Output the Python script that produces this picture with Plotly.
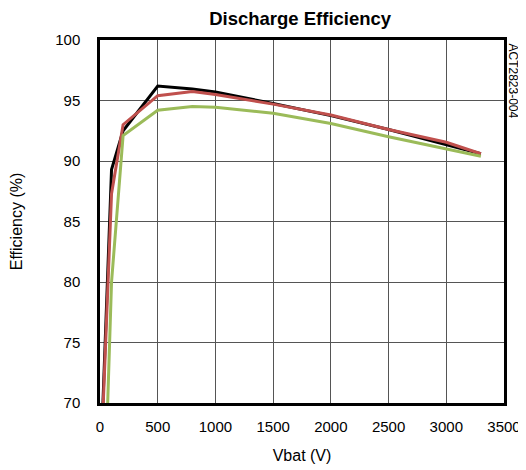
import plotly.graph_objects as go

# Data
x_black = [10, 100, 200, 500, 800, 1000, 1500, 2000, 2500, 3000, 3300]
y_black = [66.0, 89.3, 92.5, 96.2, 95.95, 95.7, 94.75, 93.75, 92.6, 91.35, 90.6]

x_red = [20, 100, 200, 500, 800, 1000, 1500, 2000, 2500, 3000, 3300]
y_red = [68.0, 87.3, 93.0, 95.4, 95.75, 95.5, 94.7, 93.8, 92.6, 91.55, 90.6]

x_green = [50, 100, 200, 500, 800, 1000, 1500, 2000, 2500, 3000, 3300]
y_green = [65.0, 80.0, 92.1, 94.2, 94.5, 94.45, 93.95, 93.1, 92.0, 91.0, 90.4]

x_ticks = [0, 500, 1000, 1500, 2000, 2500, 3000, 3500]
y_ticks = [70, 75, 80, 85, 90, 95, 100]

font_family = "Liberation Sans Narrow, Liberation Sans, Arial, sans-serif"

fig = go.Figure()
for xs, ys, col in [(x_black, y_black, "#000000"),
                    (x_red, y_red, "#c0504d"),
                    (x_green, y_green, "#9bbb59")]:
    fig.add_trace(go.Scatter(x=xs, y=ys, mode="lines",
                             line=dict(color=col, width=3),
                             showlegend=False, hoverinfo="skip"))

fig.update_layout(
    width=518, height=462,
    margin=dict(l=92, r=22, t=32, b=67),
    paper_bgcolor="white", plot_bgcolor="white",
    font=dict(family=font_family, color="black", size=15),
    title=dict(text="<b>Discharge Efficiency</b>", x=0.564, xanchor="center",
               xref="container", y=0.978, yref="container", yanchor="middle",
               font=dict(size=18.5, family=font_family, color="black")),
    xaxis=dict(range=[0, 3500], tickvals=x_ticks, ticktext=[str(v) for v in x_ticks],
               showgrid=True, gridcolor="#555555", gridwidth=1,
               showline=True, linecolor="black", linewidth=2.5, mirror=True,
               zeroline=False, ticks="", ticklabelstandoff=8, automargin=False,
               title=dict(text="Vbat (V)", font=dict(size=16), standoff=17),
               tickfont=dict(size=15)),
    yaxis=dict(range=[70, 100], tickvals=y_ticks, ticktext=[str(v) for v in y_ticks],
               showgrid=True, gridcolor="#555555", gridwidth=1,
               showline=True, linecolor="black", linewidth=2.5, mirror=True,
               zeroline=False, ticks="", ticklabelstandoff=14, automargin=False,
               title=dict(text="Efficiency (%)", font=dict(size=16), standoff=29),
               tickfont=dict(size=15)),
    annotations=[dict(text="ACT2823-004", xref="paper", yref="paper",
                      x=1.022, y=0.886, xanchor="center", yanchor="middle",
                      textangle=90, showarrow=False,
                      font=dict(size=12, family=font_family, color="black"))],
)

fig.write_html("out.html")
